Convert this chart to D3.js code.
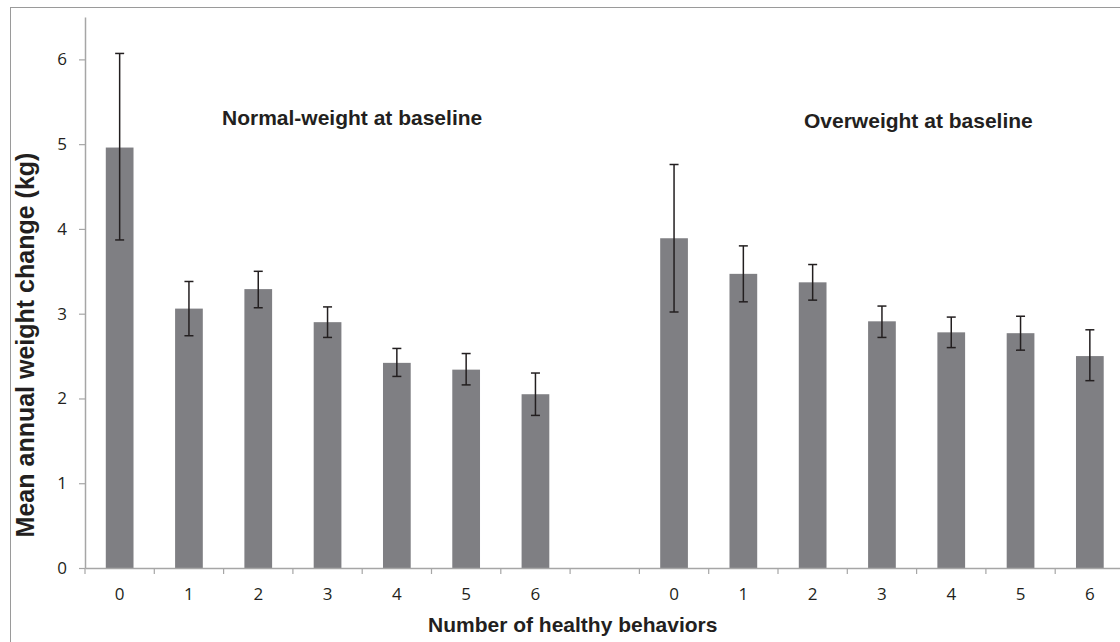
<!DOCTYPE html>
<html>
<head>
<meta charset="utf-8">
<script src="https://cdn.jsdelivr.net/npm/d3@7"></script>
<style>
  body { margin: 0; background: #fff; }
  svg { display: block; }
  .tick text { font-family: "Open Sans", "Liberation Sans", sans-serif; font-size: 17px; fill: #231f20; }
</style>
</head>
<body>
<div id="chart"></div>
<script>
// healthy behaviour counts (x categories)
const behaviors = ["0", "1", "2", "3", "4", "5", "6"];

// normal-weight at baseline: mean, lower and upper end of the error bar (kg)
const normalMean  = [4.96, 3.06, 3.29, 2.90, 2.42, 2.34, 2.05];
const normalLow   = [3.87, 2.74, 3.07, 2.72, 2.26, 2.16, 1.80];
const normalHigh  = [6.07, 3.38, 3.50, 3.08, 2.59, 2.53, 2.30];

// overweight at baseline
const overMean = [3.89, 3.47, 3.37, 2.91, 2.78, 2.77, 2.50];
const overLow  = [3.02, 3.14, 3.16, 2.72, 2.60, 2.57, 2.21];
const overHigh = [4.76, 3.80, 3.58, 3.09, 2.96, 2.97, 2.81];

const yTicks = [0, 1, 2, 3, 4, 5, 6];

const groupLabels = ["Normal-weight at baseline", "Overweight at baseline"];

const width = 1120, height = 642;
const margin = { top: 17, left: 85, bottom: 74 };
const slotW = 69.3;
const boldFont = "Liberation Sans, Arial, sans-serif";

// build rows: group 1, empty slot, group 2
const rows = [];
behaviors.forEach((b, i) => rows.push({ key: "n" + b, label: b, mean: normalMean[i], low: normalLow[i], high: normalHigh[i] }));
rows.push({ key: "gap", label: "", mean: null });
behaviors.forEach((b, i) => rows.push({ key: "o" + b, label: b, mean: overMean[i], low: overLow[i], high: overHigh[i] }));

const svg = d3.select("#chart").append("svg")
  .attr("width", width)
  .attr("height", height);

// outer frame
svg.append("rect")
  .attr("x", 10.5).attr("y", 7.5)
  .attr("width", 1200).attr("height", 700)
  .attr("fill", "none")
  .attr("stroke", "#9a9a9a")
  .attr("stroke-width", 1);

const x = d3.scaleBand()
  .domain(rows.map(d => d.key))
  .range([margin.left, margin.left + rows.length * slotW])
  .padding(0);

const y = d3.scaleLinear()
  .domain([0, 6.5])
  .range([height - margin.bottom, margin.top]);

const bw = x.bandwidth();
const barW = bw * 0.4;

// bars
const data = rows.filter(d => d.mean !== null);
svg.append("g")
  .selectAll("rect")
  .data(data)
  .join("rect")
  .attr("x", d => x(d.key) + (bw - barW) / 2)
  .attr("y", d => y(d.mean))
  .attr("width", barW)
  .attr("height", d => y(0) - y(d.mean))
  .attr("fill", "#7f7f83");

// error bars
const err = svg.append("g")
  .attr("stroke", "#231f20")
  .attr("stroke-width", 1.5);
err.selectAll("line.v")
  .data(data)
  .join("line")
  .attr("class", "v")
  .attr("x1", d => x(d.key) + bw / 2)
  .attr("x2", d => x(d.key) + bw / 2)
  .attr("y1", d => y(d.low))
  .attr("y2", d => y(d.high));
["low", "high"].forEach(k => {
  err.selectAll("line.c" + k)
    .data(data)
    .join("line")
    .attr("class", "c" + k)
    .attr("x1", d => x(d.key) + bw / 2 - 4.5)
    .attr("x2", d => x(d.key) + bw / 2 + 4.5)
    .attr("y1", d => y(d[k]))
    .attr("y2", d => y(d[k]));
});

// y axis
const yAxis = svg.append("g")
  .attr("transform", `translate(${margin.left},0)`)
  .call(d3.axisLeft(y).tickValues(yTicks).tickFormat(d3.format("d"))
    .tickSize(6).tickSizeOuter(0).tickPadding(12));
yAxis.select(".domain").attr("stroke", "#a6a6a6").attr("stroke-width", 1.5);
yAxis.selectAll(".tick line").attr("stroke", "#a6a6a6").attr("stroke-width", 1.2);

// x axis: category labels
const xAxis = svg.append("g")
  .attr("transform", `translate(0,${y(0)})`)
  .call(d3.axisBottom(x).tickFormat(k => rows.find(r => r.key === k).label).tickSize(0).tickPadding(20));
xAxis.select(".domain").attr("stroke", "#a6a6a6").attr("stroke-width", 1.5);

// x axis: slot boundary ticks
const bounds = d3.scaleLinear().domain([0, rows.length]).range(x.range());
svg.append("g")
  .selectAll("line")
  .data(d3.range(rows.length + 1))
  .join("line")
  .attr("x1", d => bounds(d))
  .attr("x2", d => bounds(d))
  .attr("y1", y(0))
  .attr("y2", y(0) + 6)
  .attr("stroke", "#a6a6a6")
  .attr("stroke-width", 1.2);

// group annotations
svg.selectAll(".group-label")
  .data(groupLabels)
  .join("text")
  .attr("class", "group-label")
  .attr("x", (d, i) => i === 0 ? 222 : 804)
  .attr("y", (d, i) => i === 0 ? 125 : 128)
  .attr("font-family", boldFont)
  .attr("font-weight", "bold")
  .attr("font-size", 21)
  .attr("fill", "#231f20")
  .text(d => d);

// axis titles
svg.append("text")
  .attr("transform", "translate(34,345) rotate(-90)")
  .attr("text-anchor", "middle")
  .attr("font-family", boldFont)
  .attr("font-weight", "bold")
  .attr("font-size", 25)
  .attr("fill", "#231f20")
  .text("Mean annual weight change (kg)");

svg.append("text")
  .attr("x", 428)
  .attr("y", 632)
  .attr("font-family", boldFont)
  .attr("font-weight", "bold")
  .attr("font-size", 21)
  .attr("fill", "#231f20")
  .text("Number of healthy behaviors");
</script>
</body>
</html>
